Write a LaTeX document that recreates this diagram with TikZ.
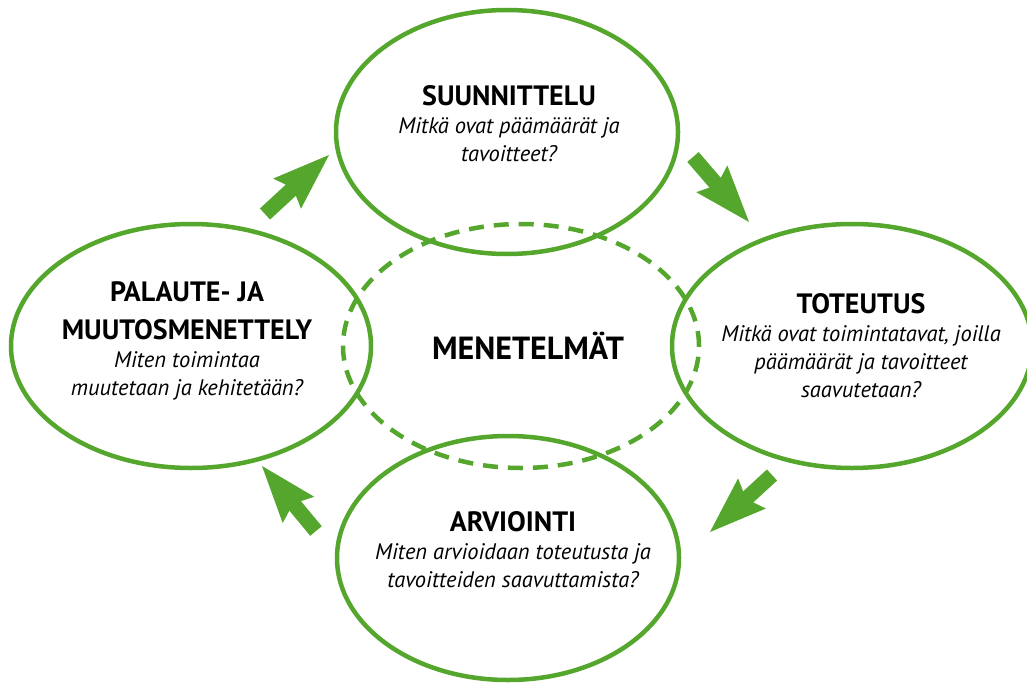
\documentclass[tikz,border=0pt]{standalone}
\usepackage{fontspec}
\setmainfont{PT Sans}
\usetikzlibrary{arrows.meta,positioning,shapes.geometric}
\definecolor{leafgreen}{RGB}{84,166,44}
\newcommand{\headfont}{\fontsize{28}{38}\selectfont\bfseries\upshape}
\newcommand{\askfont}{\fontsize{22.5}{28}\selectfont\itshape}
\tikzset{%
  phase/.style={ellipse,draw=leafgreen,line width=4.5pt,inner sep=0pt,minimum width=342pt,minimum height=244pt},
  core/.style={phase,minimum width=356pt,dash pattern=on 15pt off 10pt},
  flow/.style={leafgreen,line width=15pt,-{Stealth[length=57pt,width=41pt,inset=8pt,line width=0pt]}},
  caption/.style={align=center,inner sep=0pt,font=\askfont},
}
\begin{document}
\begin{tikzpicture}[x=1pt,y=-1pt]
      \useasboundingbox (0,0) rectangle (1027,682);

      \node[core] (menetelmat) at (521,346) {};
      \node[phase] (suunnittelu) at (507,132) {};
      \node[phase,minimum width=360pt] (toteutus) at (852,346) {};
      \node[phase] (arviointi) at (508,558) {};
      \node[phase,minimum width=360pt] (palaute) at (191,346) {};

      \node[caption,font=\headfont\fontsize{32}{36}\selectfont] (menetelmat-text) at (528,346) {MENETELMÄT};
      \node[caption] (suunnittelu-text) at (509,124) {{\headfont SUUNNITTELU}\\Mitkä ovat päämäärät ja\\tavoitteet?};
      \node[caption] (toteutus-text) at (861,346) {{\headfont TOTEUTUS}\\Mitkä ovat toimintatavat, joilla\\päämäärät ja tavoitteet\\saavutetaan?};
      \node[caption] (arviointi-text) at (513,550) {{\headfont ARVIOINTI}\\Miten arvioidaan toteutusta ja\\tavoitteiden saavuttamista?};
      \node[caption] (palaute-text) at (187,341) {{\headfont PALAUTE- JA}\\[10pt]{\headfont MUUTOSMENETTELY}\\Miten toimintaa\\muutetaan ja kehitetään?};

      % arrows round the cycle
      \coordinate (palaute-out) at (265,214);
      \coordinate (suunnittelu-in) at (329,155);
      \coordinate (suunnittelu-out) at (693,157);
      \coordinate (toteutus-in) at (749,222);
      \coordinate (toteutus-out) at (772,475);
      \coordinate (arviointi-in) at (710,532);
      \coordinate (arviointi-out) at (316,531);
      \coordinate (palaute-in) at (262,466);

      \draw[flow] (palaute-out) -- (suunnittelu-in);
      \draw[flow] (suunnittelu-out) -- (toteutus-in);
      \draw[flow] (toteutus-out) -- (arviointi-in);
      \draw[flow] (arviointi-out) -- (palaute-in);
    \end{tikzpicture}
\end{document}
